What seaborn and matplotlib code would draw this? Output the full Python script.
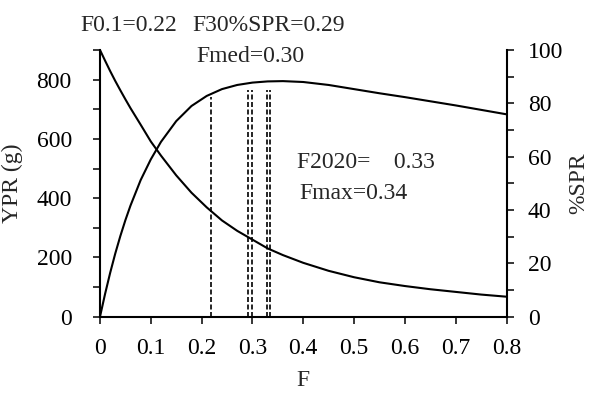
import matplotlib
matplotlib.use("Agg")
import matplotlib.pyplot as plt
import seaborn as sns
import pandas as pd
from matplotlib.ticker import MultipleLocator, FixedLocator, FixedFormatter

# ---- data ----
F_vals = [0, 0.01, 0.02, 0.03, 0.04, 0.05, 0.06, 0.08, 0.10, 0.12, 0.15, 0.18,
          0.21, 0.24, 0.27, 0.30, 0.33, 0.36, 0.40, 0.45, 0.50, 0.55, 0.60,
          0.65, 0.70, 0.75, 0.80]
ypr_vals = [0, 77, 148, 213, 272, 326, 375, 461, 531, 590, 660, 711,
            745, 768, 782, 790, 794, 795, 792, 782, 768, 754, 741,
            727, 713, 698, 683]
spr_vals = [100, 96.0, 92.1, 88.4, 84.9, 81.5, 78.2, 72.0, 65.7, 60.4, 53.0, 46.5,
            41.0, 36.1, 32.2, 28.9, 25.6, 23.1, 20.2, 17.2, 14.8, 12.9, 11.5,
            10.3, 9.3, 8.3, 7.5]
ref_F = [0.218, 0.292, 0.299, 0.329, 0.335]
ref_top = [740, 764, 764, 764, 764]
x_ticks = [0, 0.1, 0.2, 0.3, 0.4, 0.5, 0.6, 0.7, 0.8]
x_tick_labels = ["0", "0.1", "0.2", "0.3", "0.4", "0.5", "0.6", "0.7", "0.8"]
left_ticks = [0, 200, 400, 600, 800]
right_ticks = [0, 20, 40, 60, 80, 100]
annotations = [("F0.1=0.22", 80, 31), ("F30%SPR=0.29", 192, 31),
               ("Fmed=0.30", 196, 62), ("F2020=    0.33", 297, 168),
               ("Fmax=0.34", 299, 199)]

df = pd.DataFrame({"F": F_vals, "YPR": ypr_vals, "SPR": spr_vals})

sns.set_style("ticks")
plt.rcParams["font.family"] = ["Liberation Serif", "DejaVu Serif"]
FS = 17

W, H = 589, 394
fig = plt.figure(figsize=(W / 100, H / 100), dpi=100)
ax = fig.add_axes([100 / W, 1 - 316.7 / H, (506.5 - 100) / W, (316.7 - 50) / H])
ax2 = ax.twinx()

sns.lineplot(data=df, x="F", y="YPR", ax=ax, color="black", linewidth=1.5)
sns.lineplot(data=df, x="F", y="SPR", ax=ax2, color="black", linewidth=1.5)
ax.vlines(ref_F, 0, ref_top, colors="black", linestyles=(0, (3, 1.5)), linewidth=1.2)

ax.set_xlim(0, 0.8)
ax.set_ylim(0, 900)
ax2.set_ylim(0, 100)

ax.xaxis.set_major_locator(FixedLocator(x_ticks))
ax.xaxis.set_major_formatter(FixedFormatter(x_tick_labels))
ax.yaxis.set_major_locator(FixedLocator(left_ticks))
ax.yaxis.set_minor_locator(MultipleLocator(100))
ax2.yaxis.set_major_locator(FixedLocator(right_ticks))
ax2.yaxis.set_minor_locator(MultipleLocator(10))

for a in (ax, ax2):
    for s in a.spines.values():
        s.set_linewidth(1.5)
        s.set_color("black")
    a.spines["top"].set_visible(False)
    a.grid(False)

ax.spines["right"].set_visible(False)
ax2.spines["left"].set_visible(False)
ax2.spines["bottom"].set_visible(False)

ax.tick_params(axis="x", which="major", direction="out", length=5.3, width=1.1,
               labelsize=FS, pad=10, colors="black")
ax.tick_params(axis="y", which="both", direction="out", length=5.3, width=1.1,
               labelsize=FS, pad=15, colors="black")
ax2.tick_params(axis="y", which="both", direction="out", length=5.3, width=1.1,
                labelsize=FS, pad=10, colors="black")

ax.set_xlabel("F", fontsize=FS, labelpad=8)
ax.set_ylabel("YPR (g)", fontsize=FS, labelpad=10)
ax2.set_ylabel("%SPR", fontsize=FS, labelpad=4)

for txt, px, py in annotations:
    fig.text(px / W, 1 - py / H, txt, fontsize=FS, ha="left", va="baseline")

fig.savefig("out.png", dpi=100)
